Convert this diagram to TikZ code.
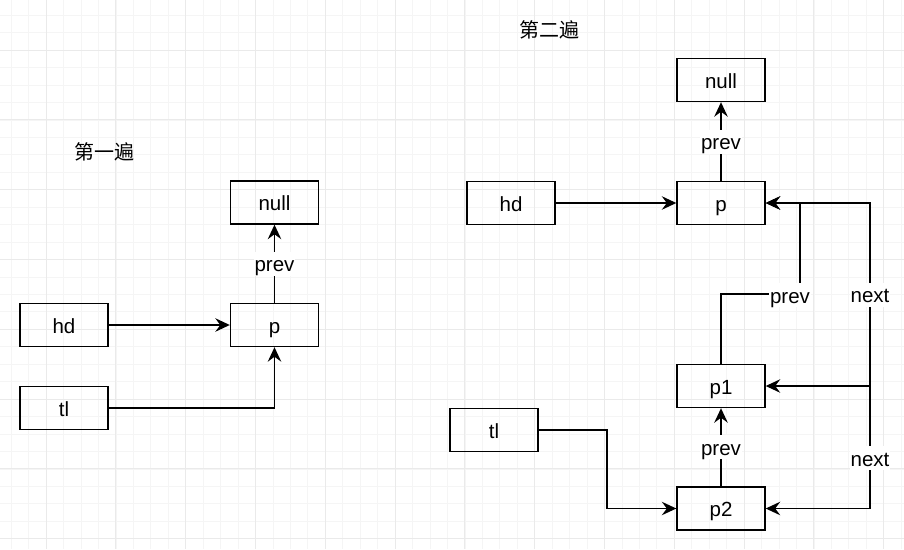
\documentclass[tikz,border=0pt]{standalone}
\usepackage{fontspec}
\setmainfont{Liberation Sans}
\newfontfamily\cjk{Noto Sans CJK SC}
\usetikzlibrary{arrows.meta}
\definecolor{gridminor}{HTML}{F5F5F5}
\definecolor{gridmajor}{HTML}{EAEAEA}
\tikzset{
  box/.style={draw, line width=1.4pt, minimum width=88pt, minimum height=43pt, inner sep=0pt, text height=16pt, text depth=0pt, font=\fontsize{20.5}{24}\selectfont},
  conn/.style={line width=1.4pt, -{Stealth[length=14.5pt,width=13.5pt,inset=5pt]}},
  lbl/.style={fill=white, inner sep=1pt, text height=19pt, text depth=3pt, font=\fontsize{20.5}{24}\selectfont},
  title/.style={font=\cjk\fontsize{20}{24}\selectfont}
}
\begin{document}
\begin{tikzpicture}[x=1pt,y=-1pt]
\useasboundingbox (0,0) rectangle (904,549);
\fill[white] (0,0) rectangle (904,549);
% grid
\foreach \i in {0,...,51} {
  \pgfmathsetmacro{\gx}{11.1+17.45*\i}
  \draw[gridminor, line width=0.6pt] (\gx,0) -- (\gx,549);
}
\foreach \i in {0,...,31} {
  \pgfmathsetmacro{\gy}{15.1+17.45*\i}
  \draw[gridminor, line width=0.6pt] (0,\gy) -- (904,\gy);
}
\foreach \i in {0,...,12} {
  \pgfmathsetmacro{\gx}{46+69.8*\i}
  \draw[gridmajor, line width=0.7pt] (\gx,0) -- (\gx,549);
}
\foreach \i in {0,...,7} {
  \pgfmathsetmacro{\gy}{50+69.8*\i}
  \draw[gridmajor, line width=0.7pt] (0,\gy) -- (904,\gy);
}
% titles
\node[title] (t1) at (104,152) {第一遍};
\node[title] (t2) at (549,30) {第二遍};
% left diagram
\node[box] (nullL) at (274.5,202.5) {null};
\node[box] (pL) at (274.5,325) {p};
\node[box] (hdL) at (64,325) {hd};
\node[box] (tlL) at (64,408) {tl};
\draw[conn] (pL) -- node[lbl] {prev} (nullL);
\draw[conn] (hdL) -- (pL);
\draw[conn] (tlL.east) -| (pL.south);
% right diagram
\node[box] (nullR) at (721,80) {null};
\node[box] (pR) at (721,203) {p};
\node[box] (hdR) at (511,203) {hd};
\node[box] (p1) at (721,386) {p1};
\node[box] (p2) at (721,508.5) {p2};
\node[box] (tlR) at (494,430) {tl};
\draw[conn] (pR) -- node[lbl] {prev} (nullR);
\draw[conn] (hdR) -- (pR);
\draw[conn] (p2) -- node[lbl] {prev} (p1);
\coordinate (c1) at (800,294);
\draw[conn] (p1.north) |- (c1) -- (c1 |- pR.east) -- (pR.east);
\node[lbl] (lprev) at (790,295) {prev};
\coordinate (j) at (870,386);
\draw[conn] (j) -- (p1.east);
\draw[conn] (j) |- node[lbl, pos=0.25] {next} (pR.east);
\draw[conn] (j) |- node[lbl, pos=0.294] {next} (p2.east);
\coordinate (tc) at (607,430);
\draw[conn] (tlR.east) -- (tc) |- (p2.west);
\end{tikzpicture}
\end{document}
